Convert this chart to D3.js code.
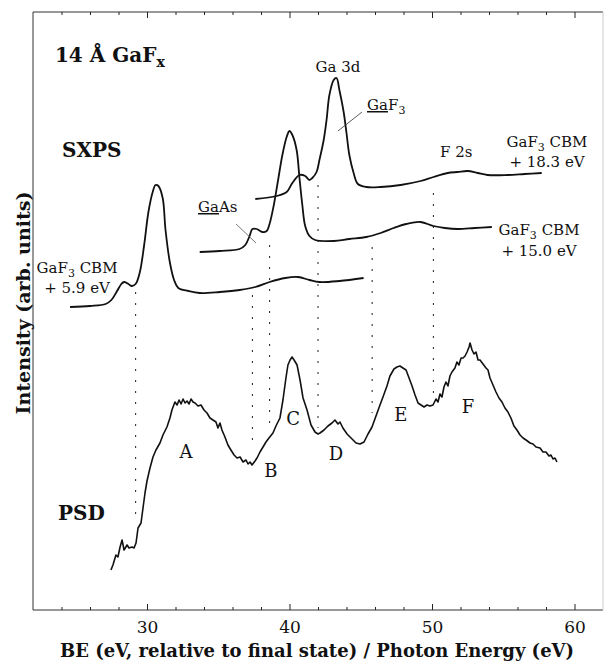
<!DOCTYPE html>
<html>
<head>
<meta charset="utf-8">
<title>14 Å GaFx - SXPS / PSD</title>
<script src="https://cdn.jsdelivr.net/npm/d3@7"></script>
<style>
    body { margin: 0; background: #fff; }
    text { font-family: "DejaVu Serif", serif; fill: #111; }
    .bold { font-weight: bold; }
</style>
</head>
<body>
<svg id="chart" width="605" height="662"></svg>
<script>
// energies in eV, intensities in arb. units
const sxps183 = [[37.6,411],[39.1,414],[39.8,418],[40.2,427],[40.7,435],[41.1,434],[41.4,430],[41.6,432],
    [41.9,438],[42.1,450],[42.4,470],[42.6,490],[42.8,515],[43.1,530],[43.3,532],[43.5,520],[43.8,498],
    [44.0,477],[44.2,455],[44.5,437],[44.8,426],[45.4,423],[46.4,423],[47.8,425],[49.2,429],[50.1,433],
    [51.1,437],[51.8,438],[52.5,439],[53.2,437],[53.9,435],[55.3,435],[56.5,436],[57.7,437]];

const sxps150 = [[33.7,358],[35.1,359],[36.5,361],[36.9,365],[37.2,374],[37.4,381],[37.7,381],[38.1,378],
    [38.4,379],[38.6,386],[38.9,405],[39.2,430],[39.5,455],[39.8,473],[40.0,479],[40.2,475],[40.5,460],
    [40.7,432],[40.9,405],[41.1,384],[41.4,374],[41.8,370],[43.1,369],[44.2,371],[45.4,373],[46.4,377],
    [47.3,382],[48.2,386],[49.2,388],[50.1,384],[50.9,382],[51.8,381],[53.0,382],[54.2,383]];

const sxps59 = [[24.6,303],[26.0,304],[27.1,306],[27.5,310],[27.9,319],[28.2,326],[28.4,328],[28.7,326],
    [28.9,324],[29.2,326],[29.5,338],[29.8,365],[30.1,398],[30.4,418],[30.6,425],[30.8,424],[31.1,412],
    [31.3,380],[31.6,348],[31.9,330],[32.2,322],[32.9,319],[33.7,317],[35.1,318],[36.5,320],[37.6,323],
    [38.6,328],[39.7,332],[40.6,333],[41.4,330],[42.1,328],[43.5,329],[45.2,332]];

const psd = [[27.47,40],[27.61,45],[27.82,55],[27.96,53],[28.11,63],[28.25,70],[28.39,60],[28.60,65],
    [28.74,62],[28.95,63],[29.09,62],[29.23,67],[29.37,82],[29.58,87],[29.72,102],[29.86,117],[30.00,129],
    [30.21,142],[30.42,153],[30.63,160],[30.91,167],[31.12,175],[31.40,183],[31.61,192],[31.75,200],
    [31.96,208],[32.11,205],[32.25,210],[32.39,206],[32.53,211],[32.67,207],[32.81,209],[32.95,206],
    [33.09,211],[33.23,208],[33.37,207],[33.58,204],[33.79,205],[34.00,200],[34.21,197],[34.42,192],
    [34.63,190],[34.84,188],[34.98,182],[35.12,187],[35.26,180],[35.47,173],[35.68,165],[35.89,160],
    [36.11,155],[36.32,152],[36.53,153],[36.74,148],[36.95,150],[37.09,146],[37.23,148],[37.37,145],
    [37.58,149],[37.72,152],[37.93,158],[38.14,163],[38.35,168],[38.56,172],[38.84,177],[39.05,184],
    [39.33,192],[39.54,210],[39.75,232],[39.89,245],[40.04,250],[40.18,253],[40.32,250],[40.53,245],
    [40.74,230],[40.95,212],[41.23,200],[41.51,185],[41.79,178],[42.00,176],[42.14,177],[42.42,180],
    [42.70,184],[42.98,187],[43.19,190],[43.40,186],[43.54,188],[43.75,182],[44.04,176],[44.25,173],
    [44.46,170],[44.67,167],[44.95,166],[45.23,168],[45.51,176],[45.79,183],[46.07,194],[46.35,205],
    [46.56,213],[46.84,224],[47.05,234],[47.33,241],[47.54,243],[47.75,244],[47.96,242],[48.18,240],
    [48.39,232],[48.60,224],[48.81,215],[49.02,207],[49.23,205],[49.44,203],[49.65,205],[49.86,204],
    [50.07,205],[50.28,211],[50.42,208],[50.56,216],[50.70,213],[50.84,223],[50.98,228],[51.12,224],
    [51.26,234],[51.40,238],[51.61,242],[51.75,248],[51.89,245],[52.04,252],[52.18,252],[52.32,254],
    [52.46,258],[52.60,263],[52.67,267],[52.81,260],[52.95,256],[53.09,258],[53.23,250],[53.37,250],
    [53.58,246],[53.79,242],[53.93,240],[54.07,232],[54.28,225],[54.49,218],[54.70,212],[54.91,208],
    [55.12,202],[55.33,198],[55.54,192],[55.75,184],[55.96,180],[56.18,175],[56.39,172],[56.60,170],
    [56.88,167],[57.09,166],[57.30,163],[57.58,162],[57.79,158],[58.00,158],[58.21,154],[58.35,155],
    [58.49,151],[58.63,152],[58.77,148]];

// dotted guide lines: energy, top and bottom intensity
const dropX = [29.2, 37.4, 38.6, 42.0, 45.8, 50.1];
const dropTop = [318, 315, 365, 425, 363, 417];
const dropBottom = [90, 165, 185, 182, 197, 217];

const peakNames = ["A", "B", "C", "D", "E", "F"];
const peakX = [32.74, 38.70, 40.25, 43.26, 47.82, 52.53];
const peakY = [152, 133, 185, 150, 189, 197];

const majorTicks = [30, 40, 50, 60];
const minorTicks = [24, 26, 28, 32, 34, 36, 38, 42, 44, 46, 48, 52, 54, 56, 58];

const svg = d3.select("#chart");
const x = d3.scaleLinear().domain([22, 62]).range([33, 603]);
const y = d3.scaleLinear().domain([0, 598]).range([610, 12]);

// frame (right side is faint in the original)
svg.append("path")
    .attr("d", "M603,12 H33 V610 H603")
    .attr("fill", "none").attr("stroke", "#333").attr("stroke-width", 1);
svg.append("line")
    .attr("x1", 603).attr("x2", 603).attr("y1", 12).attr("y2", 610)
    .attr("stroke", "#ccc").attr("stroke-width", 1);

// axes (ticks inside the frame)
function styleAxis(g) {
    g.select(".domain").remove();
    g.selectAll("line").attr("stroke", "#222");
    g.selectAll("text").style("font-family", "DejaVu Serif").style("font-size", "17px").attr("fill", "#111");
}
svg.append("g").attr("transform", "translate(0,610)")
    .call(d3.axisBottom(x).tickValues(majorTicks).tickSize(-6).tickPadding(11).tickFormat(d3.format("d")))
    .call(styleAxis);
svg.append("g").attr("transform", "translate(0,610)")
    .call(d3.axisBottom(x).tickValues(minorTicks).tickSize(-3).tickFormat(""))
    .call(styleAxis);
svg.append("g").attr("transform", "translate(0,12)")
    .call(d3.axisTop(x).tickValues(majorTicks).tickSize(-6).tickFormat(""))
    .call(styleAxis);
svg.append("g").attr("transform", "translate(0,12)")
    .call(d3.axisTop(x).tickValues(minorTicks).tickSize(-3).tickFormat(""))
    .call(styleAxis);

// dotted drop lines
svg.append("g").selectAll("line")
    .data(dropX)
    .join("line")
    .attr("x1", d => x(d)).attr("x2", d => x(d))
    .attr("y1", (d, i) => y(dropTop[i])).attr("y2", (d, i) => y(dropBottom[i]))
    .attr("stroke", "#333").attr("stroke-width", 1.1)
    .attr("stroke-dasharray", "2,9");

const line = d3.line().x(d => x(d[0])).y(d => y(d[1])).curve(d3.curveCatmullRom);

[sxps183, sxps150, sxps59].forEach(s => {
    svg.append("path").datum(s)
        .attr("fill", "none").attr("stroke", "#111").attr("stroke-width", 1.8)
        .attr("stroke-linejoin", "round").attr("d", line);
});
svg.append("path").datum(psd)
    .attr("fill", "none").attr("stroke", "#111").attr("stroke-width", 1.6)
    .attr("stroke-linejoin", "round").attr("d", d3.line().x(d => x(d[0])).y(d => y(d[1])));

// pointer lines
svg.append("line")
    .attr("x1", x(45.09)).attr("y1", y(498)).attr("x2", x(43.40)).attr("y2", y(479))
    .attr("stroke", "#333").attr("stroke-width", 0.8);
svg.append("line")
    .attr("x1", x(36.25)).attr("y1", y(386)).attr("x2", x(37.65)).attr("y2", y(367))
    .attr("stroke", "#555").attr("stroke-width", 0.8);

// peak letters
svg.append("g").selectAll("text")
    .data(peakNames)
    .join("text")
    .attr("x", (d, i) => x(peakX[i])).attr("y", (d, i) => y(peakY[i]))
    .attr("text-anchor", "middle").style("font-size", "18px")
    .text(d => d);

// text helper with subscripted 3
function gaf3(g, px, py, anchor, rest) {
    const t = g.append("text").attr("x", px).attr("y", py)
        .attr("text-anchor", anchor).style("font-size", "15px");
    t.append("tspan").text("GaF");
    t.append("tspan").attr("dy", 4).style("font-size", "11px").text("3");
    t.append("tspan").attr("dy", -4).text(rest);
    return t;
}

const notes = svg.append("g");
notes.append("text").attr("x", x(43.4)).attr("y", y(538))
    .attr("text-anchor", "middle").style("font-size", "15px").text("Ga 3d");

const gf = notes.append("text").attr("x", x(45.44)).attr("y", y(500)).style("font-size", "15px");
gf.append("tspan").style("text-decoration", "underline").text("Ga");
gf.append("tspan").text("F");
gf.append("tspan").attr("dy", 4).style("font-size", "11px").text("3");

const ga = notes.append("text").attr("x", x(33.58)).attr("y", y(398)).style("font-size", "15px");
ga.append("tspan").style("text-decoration", "underline").text("Ga");
ga.append("tspan").text("As");

notes.append("text").attr("x", x(50.56)).attr("y", y(453)).style("font-size", "15px").text("F 2s");

gaf3(notes, x(58.07), y(463), "middle", " CBM");
notes.append("text").attr("x", x(58.07)).attr("y", y(443)).attr("text-anchor", "middle")
    .style("font-size", "15px").text("+ 18.3 eV");
gaf3(notes, x(57.51), y(375), "middle", " CBM");
notes.append("text").attr("x", x(57.51)).attr("y", y(354)).attr("text-anchor", "middle")
    .style("font-size", "15px").text("+ 15.0 eV");
gaf3(notes, x(25.09), y(337), "middle", " CBM");
notes.append("text").attr("x", x(25.09)).attr("y", y(317)).attr("text-anchor", "middle")
    .style("font-size", "15px").text("+ 5.9 eV");

// bold labels
const ttl = notes.append("text").attr("class", "bold").attr("x", x(23.54)).attr("y", y(548)).style("font-size", "20px");
ttl.append("tspan").text("14 Å GaF");
ttl.append("tspan").attr("dy", 5).style("font-size", "14px").text("x");
notes.append("text").attr("class", "bold").attr("x", x(24.04)).attr("y", y(453)).style("font-size", "20px").text("SXPS");
notes.append("text").attr("class", "bold").attr("x", x(23.75)).attr("y", y(90)).style("font-size", "20px").text("PSD");

// axis titles
svg.append("text").attr("class", "bold")
    .attr("transform", "translate(30,303) rotate(-90)")
    .attr("text-anchor", "middle").style("font-size", "19px")
    .text("Intensity (arb. units)");
svg.append("text").attr("class", "bold")
    .attr("x", 317).attr("y", 657).attr("text-anchor", "middle").style("font-size", "18px")
    .text("BE (eV, relative to final state) / Photon Energy (eV)");
</script>
</body>
</html>
